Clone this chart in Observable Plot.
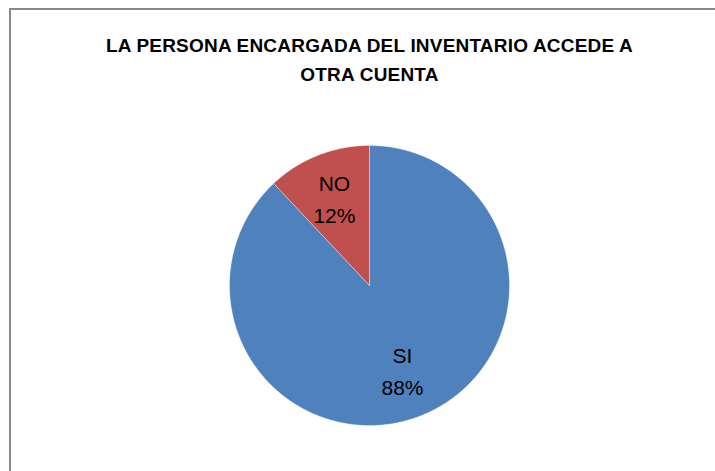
<!DOCTYPE html>
<html>
<head>
<meta charset="utf-8">
<script src="https://cdn.jsdelivr.net/npm/d3@7"></script>
<script src="https://cdn.jsdelivr.net/npm/@observablehq/plot@0.6"></script>
<style>
  html, body { margin: 0; padding: 0; background: #fff; overflow: hidden; }
  #wrap { position: relative; width: 715px; height: 471px; }
  #border { position: absolute; left: 9px; top: 8px; width: 720px; height: 480px; border: 2px solid #8a8a8a; box-sizing: border-box; }
  #title { position: absolute; left: 0; top: 31px; width: 739px; text-align: center; font-family: "Liberation Sans", Arial, sans-serif; font-weight: bold; font-size: 19px; line-height: 29px; color: #000; letter-spacing: 0.2px; }
  #chart { position: absolute; left: 0; top: 0; }
</style>
</head>
<body>
<div id="wrap">
  <div id="border"></div>
  <div id="chart"></div>
  <div id="title">LA PERSONA ENCARGADA DEL INVENTARIO ACCEDE A<br>OTRA CUENTA</div>
</div>
<script>
const categories = ["SI", "NO"];
const values = [88, 12];
const colors = ["#4F81BD", "#C0504D"];

const data = categories.map((c, i) => ({label: c, value: values[i]}));
const arcs = d3.pie().sort(null).value(d => d.value)(data);

// polygon points for each slice, in unit-circle coordinates (angle clockwise from top)
const pts = [];
for (const a of arcs) {
  const n = Math.max(4, Math.ceil((a.endAngle - a.startAngle) / 0.01));
  pts.push({label: a.data.label, x: 0, y: 0});
  for (let k = 0; k <= n; k++) {
    const t = a.startAngle + (a.endAngle - a.startAngle) * k / n;
    pts.push({label: a.data.label, x: Math.sin(t), y: Math.cos(t)});
  }
  pts.push({label: a.data.label, x: 0, y: 0});
}
const labels = arcs.map(a => {
  const m = (a.startAngle + a.endAngle) / 2;
  const r = a.data.label === "NO" ? 0.68 : 0.64;
  return {label: a.data.label, x: r * Math.sin(m), y: r * Math.cos(m), text: a.data.label + "\n" + a.data.value + "%"};
});

const chart = Plot.plot({
  width: 715,
  height: 471,
  marginLeft: 229,
  marginRight: 206,
  marginTop: 145,
  marginBottom: 46,
  x: {domain: [-1, 1], axis: null},
  y: {domain: [-1, 1], axis: null},
  color: {domain: categories, range: colors},
  style: {background: "transparent"},
  marks: [
    Plot.line(pts, {x: "x", y: "y", z: "label", fill: "label", stroke: "#ffffff", strokeWidth: 0.6, strokeOpacity: 0.6, curve: "linear"}),
    Plot.text(labels, {x: "x", y: "y", text: "text", fontSize: 21, lineHeight: 1.5, fill: "#000", fontFamily: "Liberation Sans, Arial, sans-serif"})
  ]
});
document.getElementById("chart").appendChild(chart);
</script>
</body>
</html>
